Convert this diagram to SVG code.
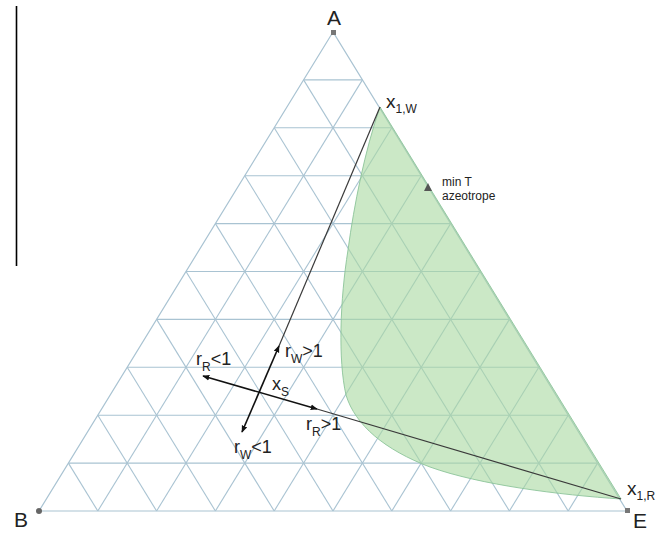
<svg xmlns="http://www.w3.org/2000/svg" width="670" height="533" viewBox="0 0 670 533">
<style>
.grid line{stroke:#a9c3d2;stroke-width:1.1}
.edge{fill:none;stroke:#a9c3d2;stroke-width:1.2}
.lbl{font-family:"Liberation Sans",Arial,sans-serif;fill:#222}
.thin{stroke:#3a3a3a;stroke-width:1.2;fill:none}
.arr{stroke:#111;stroke-width:1.6;fill:none;marker-start:url(#ah);marker-end:url(#ah)}
</style>
<defs>
<marker id="ah" viewBox="0 0 10 10" refX="9" refY="5" markerWidth="7" markerHeight="7" markerUnits="userSpaceOnUse" orient="auto-start-reverse">
<path d="M0,1 L10,5 L0,9 Z" fill="#111"/>
</marker>
</defs>
<rect width="670" height="533" fill="#fff"/>
<line x1="16.5" y1="6" x2="16.5" y2="266" stroke="#000" stroke-width="1.6"/>
<g id="grid" class="grid">
<line x1="303.6" y1="79.9" x2="362.4" y2="79.9"/>
<line x1="274.2" y1="127.8" x2="391.8" y2="127.8"/>
<line x1="244.8" y1="175.7" x2="421.2" y2="175.7"/>
<line x1="215.4" y1="223.6" x2="450.6" y2="223.6"/>
<line x1="186" y1="271.5" x2="480" y2="271.5"/>
<line x1="156.6" y1="319.4" x2="509.4" y2="319.4"/>
<line x1="127.2" y1="367.3" x2="538.8" y2="367.3"/>
<line x1="97.8" y1="415.2" x2="568.2" y2="415.2"/>
<line x1="68.4" y1="463.1" x2="597.6" y2="463.1"/>
<line x1="303.6" y1="79.9" x2="568.2" y2="511"/>
<line x1="274.2" y1="127.8" x2="509.4" y2="511"/>
<line x1="244.8" y1="175.7" x2="450.6" y2="511"/>
<line x1="215.4" y1="223.6" x2="391.8" y2="511"/>
<line x1="186" y1="271.5" x2="333" y2="511"/>
<line x1="156.6" y1="319.4" x2="274.2" y2="511"/>
<line x1="127.2" y1="367.3" x2="215.4" y2="511"/>
<line x1="97.8" y1="415.2" x2="156.6" y2="511"/>
<line x1="68.4" y1="463.1" x2="97.8" y2="511"/>
<line x1="362.4" y1="79.9" x2="97.8" y2="511"/>
<line x1="391.8" y1="127.8" x2="156.6" y2="511"/>
<line x1="421.2" y1="175.7" x2="215.4" y2="511"/>
<line x1="450.6" y1="223.6" x2="274.2" y2="511"/>
<line x1="480" y1="271.5" x2="333" y2="511"/>
<line x1="509.4" y1="319.4" x2="391.8" y2="511"/>
<line x1="538.8" y1="367.3" x2="450.6" y2="511"/>
<line x1="568.2" y1="415.2" x2="509.4" y2="511"/>
<line x1="597.6" y1="463.1" x2="568.2" y2="511"/>
</g>
<polygon class="edge" points="333,32 39,511 627,511"/>
<g id="region">
<path d="M380,107 L621,499 C560,495 480,485 430,467 C385,450 355,425 346,395 C338,360 340,300 348,250 C354,205 365,150 380,107 Z" fill="#a8d8a0" fill-opacity="0.6" stroke="#8cc49a" stroke-width="0.9"/>
</g>
<g id="connectors">
<line class="thin" x1="380" y1="107" x2="279" y2="346"/>
<line class="thin" x1="317" y1="409" x2="621" y2="499"/>
<path class="arr" d="M279,346 L242,432"/>
<path class="arr" d="M203,376 L317,409"/>
</g>
<g id="vertexA">
<rect x="331" y="30" width="5" height="5" fill="#777"/>
<text class="lbl" x="334" y="25" font-size="21" text-anchor="middle">A</text>
</g>
<g id="vertexB">
<circle cx="39" cy="511" r="3" fill="#666"/>
<text class="lbl" x="14" y="527" font-size="21">B</text>
</g>
<g id="vertexE">
<rect x="625" y="508" width="5" height="5" fill="#777"/>
<text class="lbl" x="633" y="528" font-size="21">E</text>
</g>
<g id="x1W">
<text class="lbl" x="386" y="108" font-size="19">x<tspan font-size="12" dy="5">1,W</tspan></text>
</g>
<g id="x1R">
<text class="lbl" x="627" y="495" font-size="19">x<tspan font-size="12" dy="5">1,R</tspan></text>
</g>
<g id="azeotrope">
<polygon points="424,191 432,191 428,183" fill="#555"/>
<text class="lbl" x="442" y="186" font-size="12">min T</text>
<text class="lbl" x="442" y="200" font-size="12">azeotrope</text>
</g>
<g id="xS">
<text class="lbl" x="272" y="390" font-size="18">x<tspan font-size="12" dy="6">S</tspan></text>
</g>
<g id="labels">
<text class="lbl" x="196" y="365" font-size="18">r<tspan font-size="12" dy="6">R</tspan><tspan dy="-6">&lt;1</tspan></text>
<text class="lbl" x="285" y="357" font-size="18">r<tspan font-size="12" dy="6">W</tspan><tspan dy="-6">&gt;1</tspan></text>
<text class="lbl" x="306" y="430" font-size="18">r<tspan font-size="12" dy="6">R</tspan><tspan dy="-6">&gt;1</tspan></text>
<text class="lbl" x="234" y="453" font-size="18">r<tspan font-size="12" dy="6">W</tspan><tspan dy="-6">&lt;1</tspan></text>
</g>
</svg>
